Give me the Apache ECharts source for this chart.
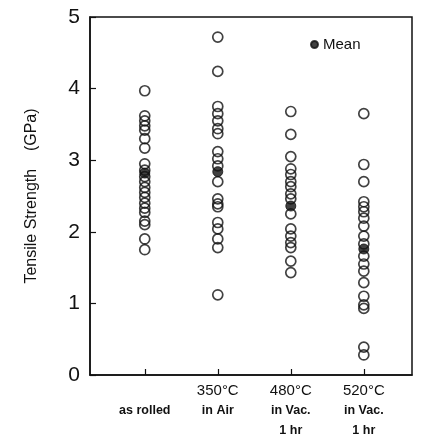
<!DOCTYPE html>
<html><head><meta charset="utf-8">
<script src="https://cdn.jsdelivr.net/npm/echarts@6/dist/echarts.min.js"></script>
<style>html,body{margin:0;padding:0;background:#fff}#c{width:426px;height:441px}</style>
</head><body><div id="c"></div>
<script>
const categories = ['as rolled', '350°C in Air', '480°C in Vac. 1 hr', '520°C in Vac. 1 hr'];
const catPositions = [1, 2, 3, 4];
const asRolled = [3.97, 3.62, 3.55, 3.48, 3.42, 3.30, 3.17, 2.95, 2.86, 2.77, 2.70, 2.62, 2.55, 2.48, 2.40, 2.33, 2.27, 2.15, 2.10, 1.90, 1.75];
const air350 = [4.72, 4.24, 3.75, 3.65, 3.55, 3.44, 3.37, 3.12, 3.02, 2.92, 2.70, 2.46, 2.39, 2.35, 2.13, 2.04, 1.90, 1.78, 1.12];
const vac480 = [3.68, 3.36, 3.05, 2.88, 2.80, 2.70, 2.63, 2.53, 2.46, 2.25, 2.04, 1.94, 1.85, 1.78, 1.59, 1.43];
const vac520 = [3.65, 2.94, 2.70, 2.42, 2.35, 2.28, 2.19, 2.08, 1.94, 1.83, 1.66, 1.55, 1.45, 1.29, 1.10, 0.98, 0.93, 0.39, 0.28];
const means = [2.82, 2.84, 2.36, 1.76];

const groups = [asRolled, air350, vac480, vac520];
const openData = [];
groups.forEach((g, i) => g.forEach(v => openData.push([catPositions[i], v])));
const meanData = means.map((v, i) => [catPositions[i], v]);

const labelMap = {
  1: '{t| }\n{s|as rolled}',
  2: '{t|350°C}\n{s|in Air}',
  3: '{t|480°C}\n{s|in Vac.}\n{s|1 hr}',
  4: '{t|520°C}\n{s|in Vac.}\n{s|1 hr}'
};

const chart = echarts.init(document.getElementById('c'), null, {renderer: 'canvas'});
chart.setOption({
  animation: false,
  backgroundColor: '#fff',
  grid: {left: 90, right: 14, top: 17, bottom: 66, show: true, borderColor: '#111', borderWidth: 1.5, backgroundColor: 'transparent'},
  legend: {
    data: ['Mean'], left: 305, top: 32, icon: 'circle', itemWidth: 7, itemHeight: 7, itemGap: 5,
    textStyle: {fontSize: 15, color: '#111', fontFamily: 'Liberation Sans'}
  },
  xAxis: {
    type: 'value', min: 0.25, max: 4.66,
    splitLine: {show: false},
    axisLine: {show: true, lineStyle: {color: '#111', width: 1.5}},
    axisTick: {show: true, inside: true, length: 6, customValues: catPositions, lineStyle: {color: '#111', width: 1.2}},
    axisLabel: {
      customValues: catPositions, margin: 6,
      formatter: v => labelMap[Math.round(v)] || '',
      rich: {
        t: {fontSize: 15, lineHeight: 20, color: '#111', fontFamily: 'Liberation Sans'},
        s: {fontSize: 12.5, lineHeight: 20, color: '#111', fontFamily: 'Liberation Sans', fontWeight: 'bold'}
      }
    }
  },
  yAxis: {
    type: 'value', min: 0, max: 5, interval: 1,
    name: 'Tensile Strength    (GPa)', nameLocation: 'middle', nameGap: 50,
    nameTextStyle: {fontSize: 16, color: '#111', fontFamily: 'Liberation Sans'},
    splitLine: {show: false},
    axisLine: {show: true, lineStyle: {color: '#111', width: 1.5}},
    axisTick: {show: true, inside: true, length: 6, lineStyle: {color: '#111', width: 1.2}},
    axisLabel: {fontSize: 21, color: '#111', margin: 10, fontFamily: 'Liberation Sans'}
  },
  series: [
    {
      name: 'data', type: 'scatter', data: openData, symbol: 'circle', symbolSize: 10,
      itemStyle: {color: 'rgba(0,0,0,0)', borderColor: '#111', borderWidth: 1.7}, z: 2
    },
    {
      name: 'Mean', type: 'scatter', data: meanData, symbol: 'circle', symbolSize: 10,
      itemStyle: {color: '#111', borderColor: '#111', borderWidth: 1}, z: 3
    }
  ]
});
</script></body></html>
